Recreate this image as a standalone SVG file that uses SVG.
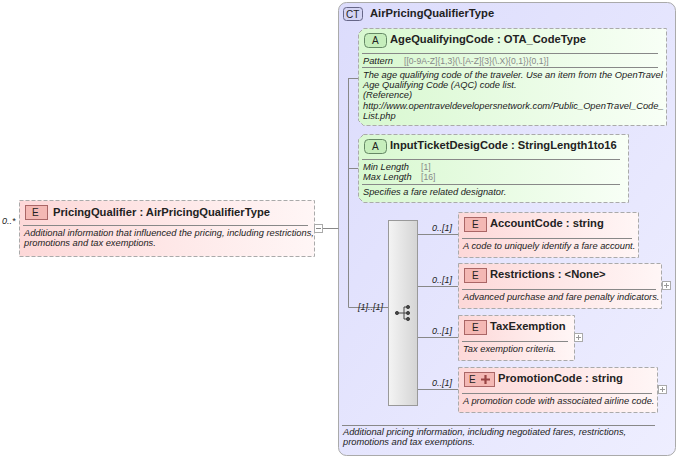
<svg xmlns="http://www.w3.org/2000/svg" width="678" height="458" viewBox="0 0 678 458">
<defs>
<linearGradient id="gE" x1="0" y1="0" x2="1" y2="0"><stop offset="0" stop-color="#fdd8d8"/><stop offset="1" stop-color="#fff6f6"/></linearGradient>
<linearGradient id="gA" x1="0" y1="0" x2="1" y2="0"><stop offset="0" stop-color="#d8f8d0"/><stop offset="1" stop-color="#f8fff6"/></linearGradient>
<linearGradient id="gS" x1="0" y1="0" x2="1" y2="0"><stop offset="0" stop-color="#f4f4f4"/><stop offset="1" stop-color="#d4d4d4"/></linearGradient>
<linearGradient id="gCT" x1="0" y1="0" x2="1" y2="1"><stop offset="0" stop-color="#dcdcfc"/><stop offset="1" stop-color="#eeeeff"/></linearGradient>
</defs>
<style>
text{font-family:"Liberation Sans",Arial,sans-serif;fill:#222}
.t{font-size:11.2px;font-weight:bold}
.d{font-size:9.3px;font-style:italic}
.g{font-size:8.6px;fill:#888}
.c{font-size:9px;font-style:italic}
.box{stroke:#aaa;stroke-dasharray:4,2;stroke-width:1}
.sep{stroke:#888;stroke-width:1}
.ln{stroke:#888;fill:none;stroke-width:1}
.bE{fill:#f4b8b4;stroke:#a66}
.bA{fill:#c6eebc;stroke:#686}
.pm{fill:#fff;stroke:#aaa}
</style>
<g id="ct">
<rect x="338.5" y="2.5" width="337" height="453" rx="8" fill="url(#gCT)" stroke="#aaa"/>
<rect x="343.5" y="7.5" width="19" height="13" rx="3" fill="#d4d4f4" stroke="#668"/>
<text x="346" y="18" style="font-size:10px">CT</text>
<text x="370" y="17" class="t">AirPricingQualifierType</text>
<line x1="342" y1="425.5" x2="655" y2="425.5" class="sep"/>
<text x="343" y="435" class="c" style="font-size:9.3px">Additional pricing information, including negotiated fares, restrictions,</text>
<text x="343" y="445" class="c" style="font-size:9.3px">promotions and tax exemptions.</text>
</g>
<g id="connectors">
<path d="M322 228.5H338.5" class="ln"/>
<path d="M348.5 78V307.5H388M348 78.5H358M348 168.5H358" class="ln"/>
<path d="M417 234.5H458M417 286.5H458M417 337.5H458M417 389.5H458" class="ln"/>
<text x="358" y="310" class="c">[1]..[1]</text>
<text x="432" y="231" class="c">0..[1]</text>
<text x="432" y="283" class="c">0..[1]</text>
<text x="432" y="334" class="c">0..[1]</text>
<text x="432" y="386" class="c">0..[1]</text>
</g>
<g id="pricingQualifier">
<text x="2" y="224" class="c">0..*</text>
<rect x="19.5" y="200.5" width="295" height="56" class="box" fill="url(#gE)"/>
<rect x="25.5" y="205.5" width="22" height="14" class="bE"/>
<text x="32" y="216" style="font-size:10px">E</text>
<text x="53" y="216" class="t">PricingQualifier : AirPricingQualifierType</text>
<line x1="23" y1="225.5" x2="308" y2="225.5" class="sep"/>
<text x="24" y="236" class="d">Additional information that influenced the pricing, including restrictions,</text>
<text x="24" y="246" class="d">promotions and tax exemptions.</text>
<rect x="314.5" y="224.5" width="8" height="8" class="pm"/>
<line x1="316" y1="228.5" x2="321" y2="228.5" stroke="#888"/>
</g>
<g id="ageQualifyingCode">
<path d="M363.5 28.5H666.5V125.5H363.5L358.5 120.5V33.5Z" class="box" fill="url(#gA)"/>
<rect x="364.5" y="33.5" width="22" height="14" rx="4" class="bA"/>
<text x="372" y="44" style="font-size:10px">A</text>
<text x="390" y="43" class="t">AgeQualifyingCode : OTA_CodeType</text>
<line x1="362" y1="53.5" x2="658" y2="53.5" class="sep"/>
<text x="363" y="64" class="d">Pattern</text>
<text x="404" y="64" class="g">[[0-9A-Z]{1,3}(\.[A-Z]{3}(\.X){0,1}){0,1}]</text>
<line x1="362" y1="67.5" x2="658" y2="67.5" class="sep"/>
<text x="363" y="78" class="d">The age qualifying code of the traveler. Use an item from the OpenTravel</text>
<text x="363" y="88" class="d">Age Qualifying Code (AQC) code list.</text>
<text x="363" y="98" class="d">(Reference)</text>
<text x="363" y="109" class="d">http://www.opentraveldevelopersnetwork.com/Public_OpenTravel_Code_</text>
<text x="363" y="119" class="d">List.php</text>
</g>
<g id="inputTicketDesigCode">
<path d="M363.5 134.5H628.5V202.5H363.5L358.5 197.5V139.5Z" class="box" fill="url(#gA)"/>
<rect x="364.5" y="139.5" width="22" height="14" rx="4" class="bA"/>
<text x="372" y="150" style="font-size:10px">A</text>
<text x="390" y="149" class="t">InputTicketDesigCode : StringLength1to16</text>
<line x1="362" y1="159.5" x2="620" y2="159.5" class="sep"/>
<text x="363" y="170" class="d">Min Length</text>
<text x="421" y="170" class="g">[1]</text>
<text x="363" y="180" class="d">Max Length</text>
<text x="421" y="180" class="g">[16]</text>
<line x1="362" y1="184.5" x2="620" y2="184.5" class="sep"/>
<text x="363" y="195" class="d">Specifies a fare related designator.</text>
</g>
<g id="sequence">
<rect x="388.5" y="220.5" width="29" height="185" fill="url(#gS)" stroke="#999"/>
<g fill="#444" stroke="#444">
<circle cx="397" cy="313" r="1.6"/><circle cx="408" cy="307" r="1.6"/><circle cx="408" cy="313" r="1.6"/><circle cx="408" cy="319" r="1.6"/>
<path d="M397 313H404M404 307V319M404 307H408M404 319H408M404 313H408" fill="none"/>
</g>
</g>
<g id="accountCode">
<rect x="458.5" y="212.5" width="180" height="45" class="box" fill="url(#gE)"/>
<rect x="464.5" y="217.5" width="22" height="14" class="bE"/>
<text x="472" y="228" style="font-size:10px">E</text>
<text x="490" y="227" class="t">AccountCode : string</text>
<line x1="462" y1="238.5" x2="632" y2="238.5" class="sep"/>
<text x="463" y="249" class="d">A code to uniquely identify a fare account.</text>
</g>
<g id="restrictions">
<rect x="458.5" y="263.5" width="203" height="45" class="box" fill="url(#gE)"/>
<rect x="464.5" y="268.5" width="22" height="14" class="bE"/>
<text x="472" y="279" style="font-size:10px">E</text>
<text x="490" y="278" class="t">Restrictions : &lt;None&gt;</text>
<line x1="462" y1="289.5" x2="656" y2="289.5" class="sep"/>
<text x="463" y="300" class="d">Advanced purchase and fare penalty indicators.</text>
<rect x="662.5" y="281.5" width="8" height="8" class="pm"/>
<path d="M664 285.5H669M666.5 283V288" stroke="#999"/>
</g>
<g id="taxExemption">
<rect x="458.5" y="315.5" width="116" height="45" class="box" fill="url(#gE)"/>
<rect x="464.5" y="320.5" width="22" height="14" class="bE"/>
<text x="472" y="331" style="font-size:10px">E</text>
<text x="490" y="330" class="t">TaxExemption</text>
<line x1="462" y1="341.5" x2="568" y2="341.5" class="sep"/>
<text x="463" y="352" class="d">Tax exemption criteria.</text>
<rect x="574.5" y="333.5" width="8" height="8" class="pm"/>
<path d="M576 337.5H581M578.5 335V340" stroke="#999"/>
</g>
<g id="promotionCode">
<rect x="458.5" y="367.5" width="199" height="45" class="box" fill="url(#gE)"/>
<rect x="464.5" y="372.5" width="30" height="14" class="bE"/>
<text x="469" y="383" style="font-size:10px">E</text>
<path d="M481 379.5H490M485.5 375V384" stroke="#944" stroke-width="2.2"/>
<text x="498" y="382" class="t">PromotionCode : string</text>
<line x1="462" y1="393.5" x2="652" y2="393.5" class="sep"/>
<text x="463" y="404" class="d">A promotion code with associated airline code.</text>
<rect x="658.5" y="385.5" width="8" height="8" class="pm"/>
<path d="M660 389.5H665M662.5 387V392" stroke="#999"/>
</g>
</svg>
